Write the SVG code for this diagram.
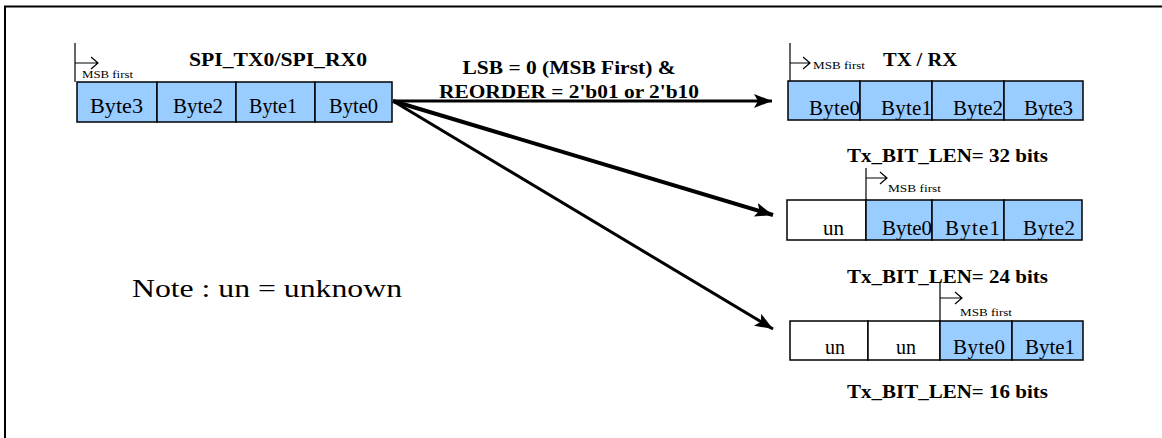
<svg xmlns="http://www.w3.org/2000/svg" width="1162" height="438" viewBox="0 0 1162 438">
<style>
.cell{stroke:#000;stroke-width:1.5}
.b{fill:#99ccff}
.w{fill:#fff}
.t{font-family:"Liberation Serif","Times New Roman",serif;fill:#000}
.byte{font-size:21px}
.bold{font-size:18.5px;font-weight:bold}
.msb{font-size:11px}
.ind{fill:none;stroke:#000;stroke-width:1.2}
.conn{fill:none;stroke:#000}
</style>
<defs>
<marker id="ah" markerUnits="userSpaceOnUse" markerWidth="20" markerHeight="16" refX="18" refY="7" orient="auto">
<path d="M0,0 L18,7 L0,14 L4,7 Z" fill="#000"/>
</marker>
</defs>
<rect width="1162" height="438" fill="#fff"/>
<g id="frame">
<path d="M4,6.5 H1162 M5,6 V438" fill="none" stroke="#000" stroke-width="2"/>
</g>

<g id="connectors">
<line class="conn" x1="393" y1="101" x2="772" y2="101" stroke-width="3" marker-end="url(#ah)"/>
<line class="conn" x1="393" y1="101" x2="773" y2="215" stroke-width="4" marker-end="url(#ah)"/>
<line class="conn" x1="393" y1="101" x2="773" y2="329" stroke-width="3" marker-end="url(#ah)"/>
<text class="t bold" x="569" y="74" text-anchor="middle" textLength="213" lengthAdjust="spacingAndGlyphs">LSB = 0 (MSB First) &amp;</text>
<text class="t bold" x="569" y="98" text-anchor="middle" textLength="260" lengthAdjust="spacingAndGlyphs">REORDER = 2'b01 or 2'b10</text>
</g>

<g id="src">
<rect class="cell b" x="77" y="82" width="80" height="40"/>
<rect class="cell b" x="157" y="82" width="79" height="40"/>
<rect class="cell b" x="236" y="82" width="79" height="40"/>
<rect class="cell b" x="315" y="82" width="77" height="40"/>
<text class="t byte" x="90" y="113" textLength="53" lengthAdjust="spacingAndGlyphs">Byte3</text>
<text class="t byte" x="173" y="113" textLength="50" lengthAdjust="spacingAndGlyphs">Byte2</text>
<text class="t byte" x="249" y="113" textLength="48" lengthAdjust="spacingAndGlyphs">Byte1</text>
<text class="t byte" x="329" y="113" textLength="49" lengthAdjust="spacingAndGlyphs">Byte0</text>
<path class="ind" d="M75,43 V82 M75,63 H98 M91,57 L98,63 L91,69"/>
<text class="t msb" x="82" y="78" textLength="51" lengthAdjust="spacingAndGlyphs">MSB first</text>
<text class="t bold" x="189" y="66" textLength="178" lengthAdjust="spacingAndGlyphs">SPI_TX0/SPI_RX0</text>
</g>

<g id="out32">
<rect class="cell b" x="788" y="81" width="72" height="39"/>
<rect class="cell b" x="860" y="81" width="72" height="39"/>
<rect class="cell b" x="932" y="81" width="72" height="39"/>
<rect class="cell b" x="1004" y="81" width="79" height="39"/>
<text class="t byte" x="809" y="115" textLength="51" lengthAdjust="spacing">Byte0</text>
<text class="t byte" x="881" y="115" textLength="51" lengthAdjust="spacing">Byte1</text>
<text class="t byte" x="953" y="115" textLength="50" lengthAdjust="spacing">Byte2</text>
<text class="t byte" x="1024" y="115" textLength="49" lengthAdjust="spacing">Byte3</text>
<path class="ind" d="M790,43 V81 M790,63 H810 M803,57 L810,63 L803,69"/>
<text class="t msb" x="813" y="69" textLength="52" lengthAdjust="spacingAndGlyphs">MSB first</text>
<text class="t bold" x="883" y="66" textLength="74" lengthAdjust="spacingAndGlyphs">TX / RX</text>
<text class="t bold" x="847" y="162" textLength="201" lengthAdjust="spacingAndGlyphs">Tx_BIT_LEN= 32 bits</text>
</g>

<g id="out24">
<rect class="cell w" x="787" y="200" width="79" height="40"/>
<rect class="cell b" x="866" y="200" width="66" height="40"/>
<rect class="cell b" x="932" y="200" width="72" height="40"/>
<rect class="cell b" x="1004" y="200" width="78" height="40"/>
<text class="t byte" x="823" y="235" textLength="21" lengthAdjust="spacingAndGlyphs">un</text>
<text class="t byte" x="882" y="235" textLength="50" lengthAdjust="spacing">Byte0</text>
<text class="t byte" x="945" y="235" textLength="55" lengthAdjust="spacing">Byte1</text>
<text class="t byte" x="1023" y="235" textLength="52" lengthAdjust="spacing">Byte2</text>
<path class="ind" d="M866,168 V200 M866,178 H887 M880,172 L887,178 L880,184"/>
<text class="t msb" x="888" y="192" textLength="53" lengthAdjust="spacingAndGlyphs">MSB first</text>
<text class="t bold" x="847" y="283" textLength="201" lengthAdjust="spacingAndGlyphs">Tx_BIT_LEN= 24 bits</text>
</g>

<g id="out16">
<rect class="cell w" x="790" y="321" width="78" height="39"/>
<rect class="cell w" x="868" y="321" width="72" height="39"/>
<rect class="cell b" x="940" y="321" width="72" height="39"/>
<rect class="cell b" x="1012" y="321" width="71" height="39"/>
<text class="t byte" x="825" y="354" textLength="20" lengthAdjust="spacingAndGlyphs">un</text>
<text class="t byte" x="896" y="354" textLength="20" lengthAdjust="spacingAndGlyphs">un</text>
<text class="t byte" x="953" y="354" textLength="52" lengthAdjust="spacing">Byte0</text>
<text class="t byte" x="1025" y="354" textLength="50" lengthAdjust="spacing">Byte1</text>
<path class="ind" d="M940,283 V321 M940,298 H962 M955,292 L962,298 L955,304"/>
<text class="t msb" x="960" y="316" textLength="52" lengthAdjust="spacingAndGlyphs">MSB first</text>
<text class="t bold" x="847" y="398" textLength="201" lengthAdjust="spacingAndGlyphs">Tx_BIT_LEN= 16 bits</text>
</g>

<g id="note">
<text class="t" x="132" y="297" font-size="26" textLength="270" lengthAdjust="spacingAndGlyphs">Note : un = unknown</text>
</g>
</svg>
